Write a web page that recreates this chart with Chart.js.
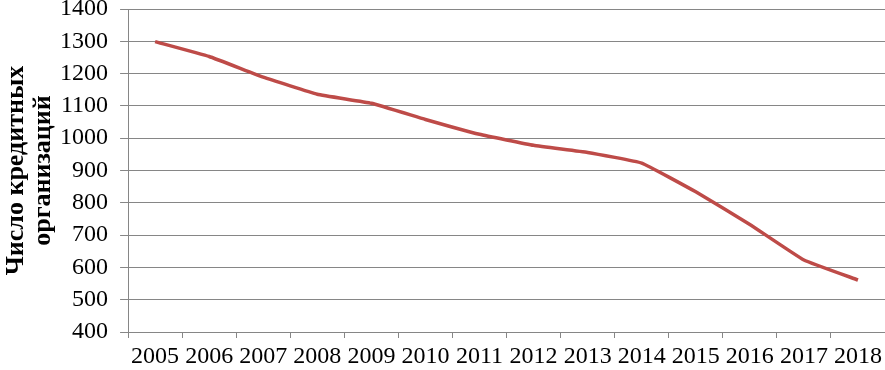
<!DOCTYPE html>
<html>
<head>
<meta charset="utf-8">
<script src="https://cdn.jsdelivr.net/npm/chart.js@4/dist/chart.umd.min.js"></script>
<style>
  html, body { margin: 0; padding: 0; background: #fff; }
  #box { width: 885px; height: 370px; }
</style>
</head>
<body>
<div id="box"><canvas id="chart" width="885" height="370"></canvas></div>
<script>
// years and number of credit organisations
const years = ['2005', '2006', '2007', '2008', '2009', '2010', '2011',
               '2012', '2013', '2014', '2015', '2016', '2017', '2018'];
const creditOrgs = [1299, 1253, 1189, 1136, 1108, 1058, 1012,
                    978, 956, 923, 834, 733, 623, 561];
const yTitle = ['Число кредитных', 'организаций'];

const gridGray = '#868686';
const serif = "'Liberation Serif', 'Times New Roman', serif";

new Chart(document.getElementById('chart'), {
  type: 'line',
  data: {
    labels: years,
    datasets: [{
      data: creditOrgs,
      borderColor: '#BE4B48',
      borderWidth: 3.5,
      pointRadius: 0,
      tension: 0.1,
      fill: false
    }]
  },
  options: {
    responsive: false,
    animation: false,
    layout: { padding: { top: 0, right: 0, bottom: -6, left: 0 } },
    plugins: { legend: { display: false }, tooltip: { enabled: false } },
    scales: {
      x: {
        offset: true,
        afterFit: s => { s.paddingRight = 0; },
        grid: {
          offset: true,
          drawOnChartArea: false,
          color: gridGray,
          tickLength: 6
        },
        border: { color: gridGray },
        ticks: {
          color: '#000',
          padding: 4,
          maxRotation: 0,
          autoSkip: false,
          font: { family: serif, size: 24, lineHeight: 1.25 }
        }
      },
      y: {
        min: 400,
        max: 1400,
        // keep the top gridline close to the canvas edge
        afterFit: s => { s.paddingTop = 9; },
        grid: { color: gridGray, tickLength: 8 },
        border: { color: gridGray },
        ticks: {
          stepSize: 100,
          color: '#000',
          padding: 12,
          callback: v => String(v),
          font: { family: serif, size: 24, lineHeight: 0.75 }
        },
        title: {
          display: true,
          text: yTitle,
          color: '#000',
          padding: { top: 3, bottom: -9 },
          font: { family: serif, size: 26, weight: 'bold', lineHeight: 1.04 }
        }
      }
    }
  }
});
</script>
</body>
</html>
